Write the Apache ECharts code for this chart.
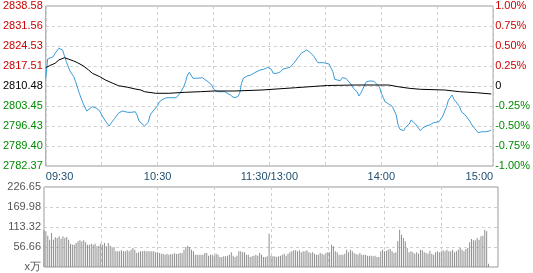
<!DOCTYPE html>
<html><head><meta charset="utf-8">
<script src="https://cdn.jsdelivr.net/npm/echarts@6/dist/echarts.min.js"></script>
<style>html,body{margin:0;padding:0;background:#fff}#c{width:533px;height:273px}</style>
</head><body><div id="c"></div>
<script>
// ---- data ----
const prevClose = 2810.48;
const timeLabels = ['09:30','10:00','10:30','11:00','11:30/13:00','13:30','14:00','14:30','15:00'];
const leftLabels = ['2782.37','2789.40','2796.43','2803.45','2810.48','2817.51','2824.53','2831.56','2838.58'];
const rightLabels = ['-1.00%','-0.75%','-0.50%','-0.25%','0','0.25%','0.50%','0.75%','1.00%'];
const volLabels = ['x万','56.66','113.32','169.98','226.65'];

// minute offsets from 09:30 (trading minutes) and index price
const priceMinutes = [0,1,2,4,5,7,8,9,10,11,13,15,16,18,20,22,23,25,27,29,30,32,34,35,37,39,41,42,44,46,48,49,50,51,53,55,56,58,60,61,63,65,67,68,70,71,72,74,75,76,77,78,79,81,82,84,85,87,89,90,92,94,96,97,99,101,103,104,105,106,108,110,112,113,115,116,117,119,120,121,122,124,126,127,129,131,132,133,134,136,137,138,140,141,142,144,145,146,147,149,150,152,153,154,155,156,158,159,160,161,162,164,165,167,168,169,170,171,172,174,176,177,179,180,181,182,184,185,186,188,189,190,192,193,195,196,198,200,201,202,204,206,208,209,211,213,215,216,218,219,220,222,223,225,227,229,230,232,234,236,238,239];
const priceValues = [2813.19,2819.97,2819.61,2820.77,2821.97,2823.72,2823.94,2823.13,2821.12,2819.02,2815.75,2813.75,2811.99,2807.92,2804.40,2801.70,2802.05,2803.21,2802.75,2801.70,2800.29,2798.18,2796.43,2797.38,2799.13,2800.89,2801.70,2801.24,2801.24,2801.24,2801.45,2800.29,2798.18,2797.73,2796.43,2797.73,2800.29,2802.05,2803.56,2804.96,2805.91,2806.37,2806.37,2806.72,2806.37,2807.07,2807.92,2810.23,2811.99,2814.34,2815.29,2814.59,2813.19,2813.19,2813.40,2813.40,2813.19,2811.99,2810.83,2809.43,2808.48,2808.48,2808.48,2807.92,2807.32,2806.37,2806.72,2807.92,2811.43,2813.19,2813.99,2814.34,2815.15,2815.50,2816.10,2815.50,2816.35,2817.05,2817.05,2816.35,2814.94,2814.94,2815.50,2816.35,2816.70,2817.05,2817.51,2818.46,2819.02,2821.02,2821.97,2822.18,2823.13,2823.37,2822.18,2820.77,2819.61,2818.67,2818.21,2818.67,2818.67,2818.21,2817.51,2815.50,2812.83,2812.34,2812.34,2813.40,2812.83,2813.19,2812.59,2810.83,2809.67,2808.48,2806.97,2807.92,2809.32,2810.83,2811.99,2812.24,2812.13,2811.99,2810.23,2807.92,2806.51,2804.96,2804.16,2804.40,2803.21,2800.29,2796.78,2795.27,2794.78,2795.97,2797.13,2798.54,2797.38,2795.62,2794.78,2795.62,2796.43,2796.78,2797.59,2797.13,2797.94,2799.94,2803.21,2805.56,2807.32,2805.81,2804.96,2803.21,2801.45,2800.29,2798.54,2796.43,2795.62,2794.07,2794.42,2794.42,2794.67,2795.02];

const avgMinutes = [0,2,5,7,10,12,15,17,20,23,25,29,32,36,39,44,48,51,53,59,66,75,83,90,101,116,134,151,166,178,184,189,195,201,214,222,231,239];
const avgValues = [2816.91,2817.61,2818.46,2819.61,2820.42,2819.97,2819.26,2818.67,2817.61,2816.10,2814.94,2813.75,2812.59,2811.43,2810.59,2810.02,2809.43,2809.07,2808.48,2807.92,2807.92,2808.27,2808.48,2808.72,2808.72,2809.07,2809.88,2810.66,2810.83,2810.83,2810.83,2810.23,2809.67,2809.32,2809.07,2808.48,2808.13,2807.67];

// volume per minute (万)
const volume = [
103.9,101.0,88.8,77.4,96.3,77.4,84.0,82.2,86.9,80.3,86.9,82.2,85.0,77.4,66.1,63.3,63.3,68.0,72.7,75.5,
72.7,75.5,69.9,63.3,63.3,66.1,63.3,66.1,58.5,60.4,66.1,63.3,68.0,58.5,68.0,60.4,53.8,56.7,44.4,44.4,
44.4,47.2,44.4,44.4,47.2,44.4,49.1,53.8,49.1,39.7,41.5,44.4,44.4,46.3,44.4,44.4,44.4,44.4,44.4,41.5,
41.5,39.7,37.8,37.8,34.9,37.8,34.9,36.8,35.9,38.7,36.8,37.8,
39.7,39.7,49.1,56.7,60.4,56.7,49.1,44.4,34.9,34.9,34.9,34.9,34.9,39.7,39.7,32.1,34.9,34.9,32.1,37.8,
34.9,28.3,28.3,30.2,30.2,32.1,34.9,41.5,32.1,28.3,32.1,44.4,44.4,41.5,41.5,34.9,34.9,28.3,30.2,32.1,
34.9,32.1,39.7,34.9,28.3,28.3,30.2,
94.4,
32.1,30.2,30.2,28.3,30.2,32.1,34.9,37.8,32.1,37.8,41.5,44.4,47.2,47.2,44.4,47.2,41.5,44.4,44.4,47.2,
41.5,39.7,41.5,37.8,34.9,34.9,39.7,37.8,34.9,39.7,41.5,41.5,63.3,58.5,44.4,41.5,34.9,34.9,34.9,37.8,
49.1,41.5,49.1,44.4,38.7,36.8,
34.9,39.7,34.9,34.9,34.9,32.1,32.1,32.1,30.2,32.1,28.3,28.3,44.4,49.1,44.4,46.3,49.1,51.0,44.4,39.7,
41.5,72.7,105.8,91.6,82.2,72.7,53.8,41.5,44.4,41.5,37.8,41.5,37.8,49.1,47.2,41.5,39.7,37.8,46.3,37.8,
34.9,41.5,44.4,41.5,44.4,47.2,44.4,49.1,44.4,44.4,49.1,41.5,44.4,49.1,53.8,49.1,44.4,51.0,53.8,69.9,
79.3,75.5,75.5,82.2,77.4,86.9,88.8,105.8,101.0,9.4
];

// ---- chart ----
const pct = v => (v / prevClose - 1) * 100;
const FONT = 'Liberation Sans';
const RED = '#cc0000', GREEN = '#008a00', BLACK = '#000000';
const labelColor = i => i < 4 ? GREEN : (i === 4 ? BLACK : RED);
const idx = v => Math.round((v + 1) / 0.25);
const dashed = {show: true, lineStyle: {color: '#cfcfcf', type: [3, 3]}};

const chart = echarts.init(document.getElementById('c'), null, {renderer: 'canvas'});
chart.setOption({
  animation: false,
  backgroundColor: '#fff',
  grid: [
    {left: 44, right: 35, top: 6, height: 160, show: true, borderColor: '#999', borderWidth: 1},
    {left: 44, right: 35, top: 187, height: 80, show: true, borderColor: '#999', borderWidth: 1}
  ],
  xAxis: [
    {type: 'value', gridIndex: 0, min: 0, max: 240, interval: 30,
     axisLine: {show: false}, axisTick: {show: false}, splitLine: dashed,
     axisLabel: {show: true, margin: 5, color: '#1f4e6e', fontFamily: FONT, fontSize: 11,
       alignMinLabel: 'left', alignMaxLabel: 'right', showMinLabel: true, showMaxLabel: true,
       formatter: v => { const i = Math.round(v / 30); return i % 2 === 0 ? timeLabels[i] : ''; }}},
    {type: 'value', gridIndex: 1, min: 0, max: 240, interval: 30,
     axisLine: {show: false}, axisTick: {show: false}, axisLabel: {show: false},
     splitLine: dashed}
  ],
  yAxis: [
    {type: 'value', gridIndex: 0, position: 'left', min: -1, max: 1, interval: 0.25,
     axisLine: {show: false}, axisTick: {show: false}, splitLine: dashed,
     axisLabel: {margin: 3, fontFamily: FONT, fontSize: 11,
       formatter: v => { const i = idx(v); return '{c' + i + '|' + leftLabels[i] + '}'; },
       rich: Object.fromEntries(leftLabels.map((_, i) => ['c' + i, {color: labelColor(i), fontFamily: FONT, fontSize: 11}]))}},
    {type: 'value', gridIndex: 0, position: 'right', min: -1, max: 1, interval: 0.25,
     axisLine: {show: false}, axisTick: {show: false}, splitLine: {show: false},
     axisLabel: {margin: 2, fontFamily: FONT, fontSize: 11,
       formatter: v => { const i = idx(v); return '{c' + i + '|' + rightLabels[i] + '}'; },
       rich: Object.fromEntries(rightLabels.map((_, i) => ['c' + i, {color: labelColor(i), fontFamily: FONT, fontSize: 11}]))}},
    {type: 'value', gridIndex: 1, position: 'left', min: 0, max: 226.65, interval: 56.6625,
     axisLine: {show: false}, axisTick: {show: false}, splitLine: dashed,
     axisLabel: {margin: 3, color: '#555', fontFamily: FONT, fontSize: 11,
       formatter: v => volLabels[Math.round(v / 56.6625)]}}
  ],
  series: [
    {type: 'line', xAxisIndex: 0, yAxisIndex: 0, showSymbol: false, silent: true,
     lineStyle: {color: '#3a9ad6', width: 1},
     data: priceMinutes.map((m, i) => [m, pct(priceValues[i])])},
    {type: 'line', xAxisIndex: 0, yAxisIndex: 0, showSymbol: false, silent: true,
     lineStyle: {color: '#000', width: 1},
     data: avgMinutes.map((m, i) => [m, pct(avgValues[i])])},
    {type: 'bar', xAxisIndex: 1, yAxisIndex: 2, silent: true, barWidth: 1,
     itemStyle: {color: '#8f8f8f'},
     data: volume.map((v, i) => [i, v])}
  ]
});
</script></body></html>
